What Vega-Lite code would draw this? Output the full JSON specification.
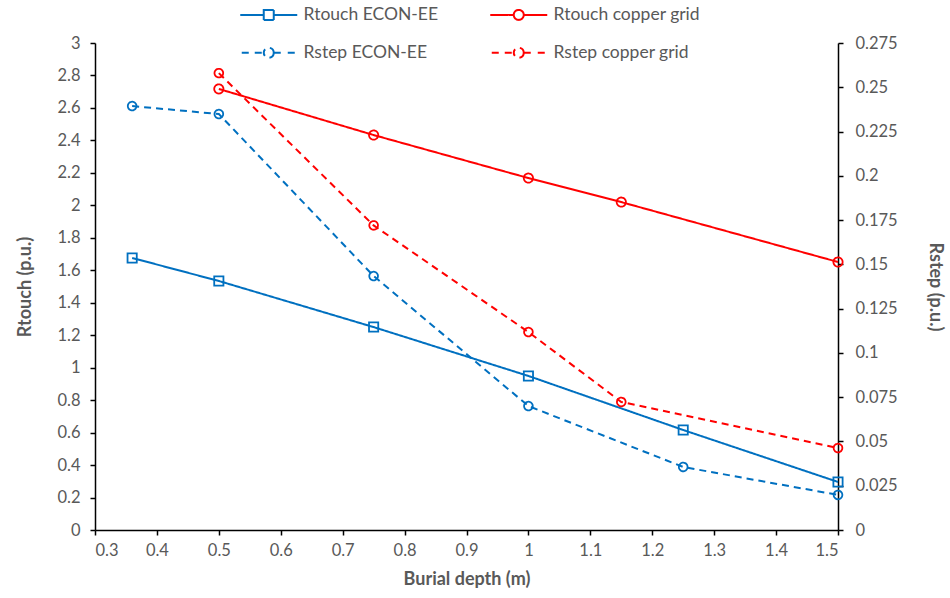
{
  "$schema": "https://vega.github.io/schema/vega-lite/v6.json",
  "width": 743,
  "height": 487,
  "autosize": {"type": "none"},
  "padding": {"left": 95, "top": 43, "right": 112, "bottom": 68},
  "background": "white",
  "config": {
    "view": {"stroke": null},
    "axis": {
      "domainColor": "black", "domainWidth": 1.5, "tickColor": "black", "tickWidth": 1.5, "tickSize": 5,
      "grid": false, "labelColor": "#595959", "labelFont": "Lato", "labelFontSize": 16.5,
      "titleColor": "#595959", "titleFont": "Lato", "titleFontSize": 18, "titleFontWeight": "bold"
    },
    "legend": {
      "orient": "none", "legendX": 135, "legendY": -37, "columns": 2, "direction": "horizontal", "title": null,
      "symbolSize": 16, "symbolStrokeWidth": 2, "symbolOffset": 30, "labelOffset": 26,
      "labelFont": "Lato", "labelFontSize": 17.5, "labelColor": "#595959",
      "columnPadding": 41, "rowPadding": 19
    }
  },
  "data": {
    "values": [
      {"x": 0.36, "y": 1.676, "series": "Rtouch ECON-EE", "kind": "touch"},
      {"x": 0.5, "y": 1.534, "series": "Rtouch ECON-EE", "kind": "touch"},
      {"x": 0.75, "y": 1.25, "series": "Rtouch ECON-EE", "kind": "touch"},
      {"x": 1.0, "y": 0.949, "series": "Rtouch ECON-EE", "kind": "touch"},
      {"x": 1.25, "y": 0.616, "series": "Rtouch ECON-EE", "kind": "touch"},
      {"x": 1.5, "y": 0.296, "series": "Rtouch ECON-EE", "kind": "touch"},
      {"x": 0.5, "y": 2.717, "series": "Rtouch copper grid", "kind": "touch"},
      {"x": 0.75, "y": 2.433, "series": "Rtouch copper grid", "kind": "touch"},
      {"x": 1.0, "y": 2.168, "series": "Rtouch copper grid", "kind": "touch"},
      {"x": 1.15, "y": 2.02, "series": "Rtouch copper grid", "kind": "touch"},
      {"x": 1.5, "y": 1.651, "series": "Rtouch copper grid", "kind": "touch"},
      {"x": 0.36, "y": 0.2394, "series": "Rstep ECON-EE", "kind": "step"},
      {"x": 0.5, "y": 0.2349, "series": "Rstep ECON-EE", "kind": "step"},
      {"x": 0.75, "y": 0.1434, "series": "Rstep ECON-EE", "kind": "step"},
      {"x": 1.0, "y": 0.070, "series": "Rstep ECON-EE", "kind": "step"},
      {"x": 1.25, "y": 0.0356, "series": "Rstep ECON-EE", "kind": "step"},
      {"x": 1.5, "y": 0.0198, "series": "Rstep ECON-EE", "kind": "step"},
      {"x": 0.5, "y": 0.258, "series": "Rstep copper grid", "kind": "step"},
      {"x": 0.75, "y": 0.172, "series": "Rstep copper grid", "kind": "step"},
      {"x": 1.0, "y": 0.1118, "series": "Rstep copper grid", "kind": "step"},
      {"x": 1.15, "y": 0.0723, "series": "Rstep copper grid", "kind": "step"},
      {"x": 1.5, "y": 0.0463, "series": "Rstep copper grid", "kind": "step"}
    ]
  },
  "encoding": {
    "x": {
      "field": "x", "type": "quantitative",
      "scale": {"domain": [0.3, 1.5], "nice": false, "zero": false},
      "axis": {
        "title": "Burial depth (m)", "values": [0.3, 0.4, 0.5, 0.6, 0.7, 0.8, 0.9, 1, 1.1, 1.2, 1.3, 1.4, 1.5],
        "format": ".4~g", "labelPadding": 7, "titlePadding": 12
      }
    },
    "color": {
      "field": "series", "type": "nominal",
      "scale": {
        "domain": ["Rtouch ECON-EE", "Rtouch copper grid", "Rstep ECON-EE", "Rstep copper grid"],
        "range": ["#0070C0", "#FF0000", "#0070C0", "#FF0000"]
      },
      "legend": {
        "encode": {
          "symbols": {
            "update": {
              "shape": {"signal": "datum.value == 'Rtouch ECON-EE' ? 'M-14.25,0H-2.5M2.5,0H14.25M-2.5,-2.5H2.5V2.5H-2.5Z' : (datum.value == 'Rtouch copper grid' ? 'M-14.25,0H-2.5M2.5,0H14.25M2.5,0A2.5,2.5,0,1,1,-2.5,0A2.5,2.5,0,1,1,2.5,0' : 'M-13.5,0H-10M-7,0H-2.5M2.5,0H6.5M9.5,0H13M2.5,0A2.5,2.5,0,1,1,-2.5,0A2.5,2.5,0,1,1,2.5,0')"},
              "fill": {"value": "transparent"},
              "strokeDash": {"value": []},
              "opacity": {"value": 1}
            }
          }
        }
      }
    },
    "strokeDash": {
      "field": "series", "type": "nominal",
      "scale": {
        "domain": ["Rtouch ECON-EE", "Rtouch copper grid", "Rstep ECON-EE", "Rstep copper grid"],
        "range": [[1, 0], [1, 0], [7, 5], [7, 5]]
      },
      "legend": null
    }
  },
  "layer": [
    {
      "transform": [{"filter": "datum.kind == 'touch'"}],
      "encoding": {
        "y": {
          "field": "y", "type": "quantitative",
          "scale": {"domain": [0, 3], "nice": false},
          "axis": {
            "orient": "left", "title": "Rtouch (p.u.)", "values": [0, 0.2, 0.4, 0.6, 0.8, 1, 1.2, 1.4, 1.6, 1.8, 2, 2.2, 2.4, 2.6, 2.8, 3],
            "format": ".4~g", "labelPadding": 10, "titlePadding": 22
          }
        }
      },
      "layer": [
        {"mark": {"type": "line", "strokeWidth": 2}},
        {
          "mark": {"type": "point", "filled": false, "strokeWidth": 1.8, "opacity": 1},
          "encoding": {
            "shape": {
              "field": "series", "type": "nominal",
              "scale": {"domain": ["Rtouch ECON-EE", "Rtouch copper grid"], "range": ["square", "circle"]},
              "legend": null
            },
            "size": {"value": 85},
            "strokeDash": {"value": [1, 0]}
          }
        }
      ]
    },
    {
      "transform": [{"filter": "datum.kind == 'step'"}],
      "encoding": {
        "y": {
          "field": "y", "type": "quantitative",
          "scale": {"domain": [0, 0.275], "nice": false},
          "axis": {
            "orient": "right", "title": "Rstep (p.u.)", "values": [0, 0.025, 0.05, 0.075, 0.1, 0.125, 0.15, 0.175, 0.2, 0.225, 0.25, 0.275],
            "format": ".4~g", "labelPadding": 12, "titlePadding": 28
          }
        }
      },
      "layer": [
        {"mark": {"type": "line", "strokeWidth": 2}},
        {
          "mark": {"type": "point", "shape": "circle", "filled": false, "strokeWidth": 1.8, "opacity": 1},
          "encoding": {"size": {"value": 75}, "strokeDash": {"value": [1, 0]}}
        }
      ]
    }
  ],
  "resolve": {"scale": {"y": "independent"}}
}
